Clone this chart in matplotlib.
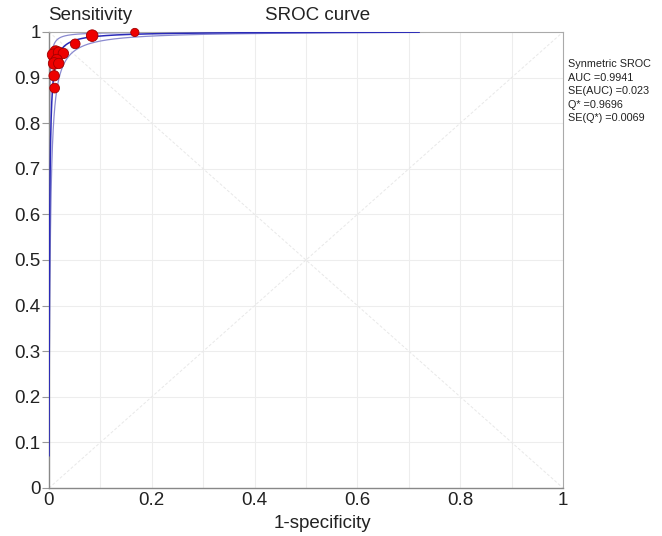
import numpy as np
import matplotlib
matplotlib.use("Agg")
import matplotlib.pyplot as plt

plt.rcParams['font.family'] = ['Liberation Sans', 'DejaVu Sans']

# Study points (1-specificity, sensitivity, relative weight)
fpr = [0.013, 0.008, 0.019, 0.028, 0.015, 0.010, 0.019, 0.010, 0.011, 0.051, 0.084, 0.167]
sens = [0.957, 0.950, 0.955, 0.953, 0.939, 0.931, 0.931, 0.904, 0.877, 0.974, 0.992, 0.999]
weight = [1.0, 1.0, 0.9, 0.8, 0.9, 1.0, 0.8, 0.8, 0.7, 0.7, 1.0, 0.5]

# Symmetric SROC parameters
auc = 0.9941
se_auc = 0.023
q_star = 0.9696
se_q = 0.0069
a_main = 2 * np.log(q_star / (1 - q_star))
a_low = 6.1
a_high = 8.2

xticks = [0, 0.2, 0.4, 0.6, 0.8, 1]
xticklabels = ['0', '0.2', '0.4', '0.6', '0.8', '1']
yticks = [0, 0.1, 0.2, 0.3, 0.4, 0.5, 0.6, 0.7, 0.8, 0.9, 1]
yticklabels = ['0', '0.1', '0.2', '0.3', '0.4', '0.5', '0.6', '0.7', '0.8', '0.9', '1']

fig = plt.figure(figsize=(6.62, 5.36), dpi=100)
ax = fig.add_axes([49/662, 1 - 488/536, (563-49)/662, (488-32)/536])

def sroc(x, a):
    return 1 / (1 + np.exp(-a) * (1 - x) / x)

xs_band = np.logspace(np.log10(7.5e-5), np.log10(0.92), 600)
xs_main = np.logspace(np.log10(7.5e-5), np.log10(0.72), 600)

# grid
for v in np.arange(0.1, 1.0, 0.1):
    ax.axvline(v, color='#ededed', lw=0.8, zorder=0)
    ax.axhline(v, color='#ededed', lw=0.8, zorder=0)

# diagonals
ax.plot([0, 1], [0, 1], color='#e8e8e8', lw=0.7, ls=(0, (3, 2)), zorder=1)
ax.plot([0, 1], [1, 0], color='#e8e8e8', lw=0.7, ls=(0, (3, 2)), zorder=1)

ax.plot(xs_band, sroc(xs_band, a_low), color='#8a8ad0', lw=0.9, zorder=2)
ax.plot(xs_band, sroc(xs_band, a_high), color='#8a8ad0', lw=0.9, zorder=2)
ax.plot(xs_main, sroc(xs_main, a_main), color='#2a2ab8', lw=1.1, zorder=3)

sizes = [70 * w for w in weight]
ax.scatter(fpr, sens, s=sizes, color='#ee0000', edgecolors='#a00000', linewidths=0.6, zorder=5, clip_on=False)

ax.set_xlim(0, 1)
ax.set_ylim(0, 1)
ax.set_xticks(xticks)
ax.set_xticklabels(xticklabels)
ax.set_yticks(yticks)
ax.set_yticklabels(yticklabels)
ax.tick_params(axis='both', labelsize=13.5, colors='#999999', labelcolor='#222222', width=0.8)
ax.tick_params(axis='x', length=0, pad=3)
ax.tick_params(axis='y', length=5, pad=1)
for side in ['top', 'right']:
    ax.spines[side].set_color('#aaaaaa')
    ax.spines[side].set_linewidth(0.8)
for side in ['left', 'bottom']:
    ax.spines[side].set_color('#888888')
    ax.spines[side].set_linewidth(1.0)

fig.text(48/662, 1 - 15/536, 'Sensitivity', fontsize=13.5, color='#222222', ha='left', va='center')
fig.text(318/662, 1 - 15/536, 'SROC curve', fontsize=13.5, color='#222222', ha='center', va='center')
fig.text(322/662, 1 - 523/536, '1-specificity', fontsize=13.5, color='#222222', ha='center', va='center')

info = ('Synmetric SROC\nAUC =%.4f\nSE(AUC) =%.3f\nQ* =%.4f\nSE(Q*) =%.4f'
        % (auc, se_auc, q_star, se_q))
fig.text(568/662, 1 - 59/536, info, fontsize=7.8, color='#222222', ha='left', va='top', linespacing=1.45)

fig.savefig('out.png', dpi=100)
